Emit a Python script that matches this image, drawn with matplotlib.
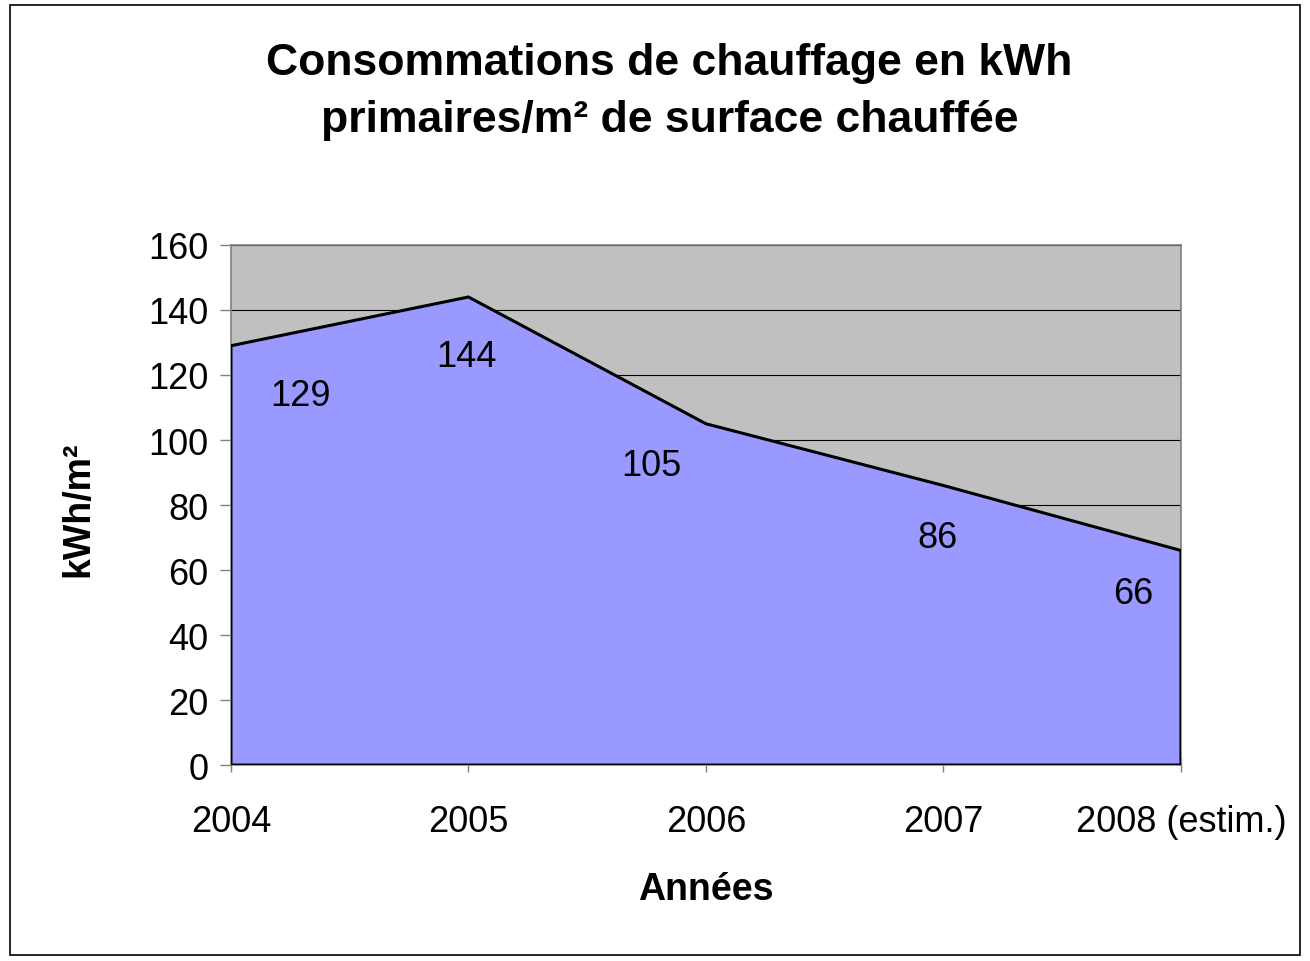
import matplotlib.pyplot as plt
from matplotlib.patches import Rectangle

plt.rcParams['font.family'] = ['Liberation Sans', 'DejaVu Sans']

years = ['2004', '2005', '2006', '2007', '2008 (estim.)']
conso = [129, 144, 105, 86, 66]

fig = plt.figure(figsize=(13.1, 9.62), dpi=100)
fig.patches.append(Rectangle((0.0075, 0.006), 0.985, 0.988, transform=fig.transFigure,
                             fill=False, edgecolor='black', linewidth=1.2))

ax = fig.add_axes([0.1763, 0.2037, 0.7252, 0.5406])
ax.set_facecolor('#C0C0C0')
x = list(range(len(years)))

ax.fill_between(x, 0, conso, facecolor='#9999FF', edgecolor='none', zorder=2)
ax.plot(x + [x[-1], x[0], x[0]], conso + [0, 0, conso[0]], color='black', linewidth=2.2,
        zorder=3, solid_joinstyle='miter')

ax.set_xlim(0, len(years) - 1)
ax.set_ylim(0, 160)
ax.set_yticks(range(0, 161, 20))
ax.yaxis.grid(True, color='black', linewidth=0.8, zorder=1)
ax.set_axisbelow(True)
ax.set_xticks(x)
ax.set_xticklabels(years)
ax.tick_params(axis='both', labelsize=26, colors='black')
ax.tick_params(axis='y', length=8, width=1, color='#808080', pad=8)
ax.tick_params(axis='x', length=10, width=1, color='#808080', pad=23, direction='inout')

for s in ax.spines.values():
    s.set_color('#808080')
    s.set_linewidth(1.2)

# data label offsets (pixels) as placed by the original chart
offsets = [(70, -50), (-2, -60), (-55, -42), (-6, -52), (-48, -43)]
for xi, v, (dx, dy) in zip(x, conso, offsets):
    ax.annotate(str(v), (xi, v), xytext=(dx * 0.72, dy * 0.72), textcoords='offset points',
                ha='center', va='center', fontsize=26, zorder=4)

ax.set_xlabel('Années', fontsize=27, fontweight='bold', va='center')
ax.xaxis.set_label_coords(0.5, -0.238)
ax.set_ylabel('kWh/m²', fontsize=27, fontweight='bold', va='center')
ax.yaxis.set_label_coords(-0.161, 0.494)

fig.text(0.511, 0.904, 'Consommations de chauffage en kWh\nprimaires/m² de surface chauffée',
         ha='center', va='center', fontsize=32, fontweight='bold', linespacing=1.5)

fig.savefig('out.png', dpi=100)
